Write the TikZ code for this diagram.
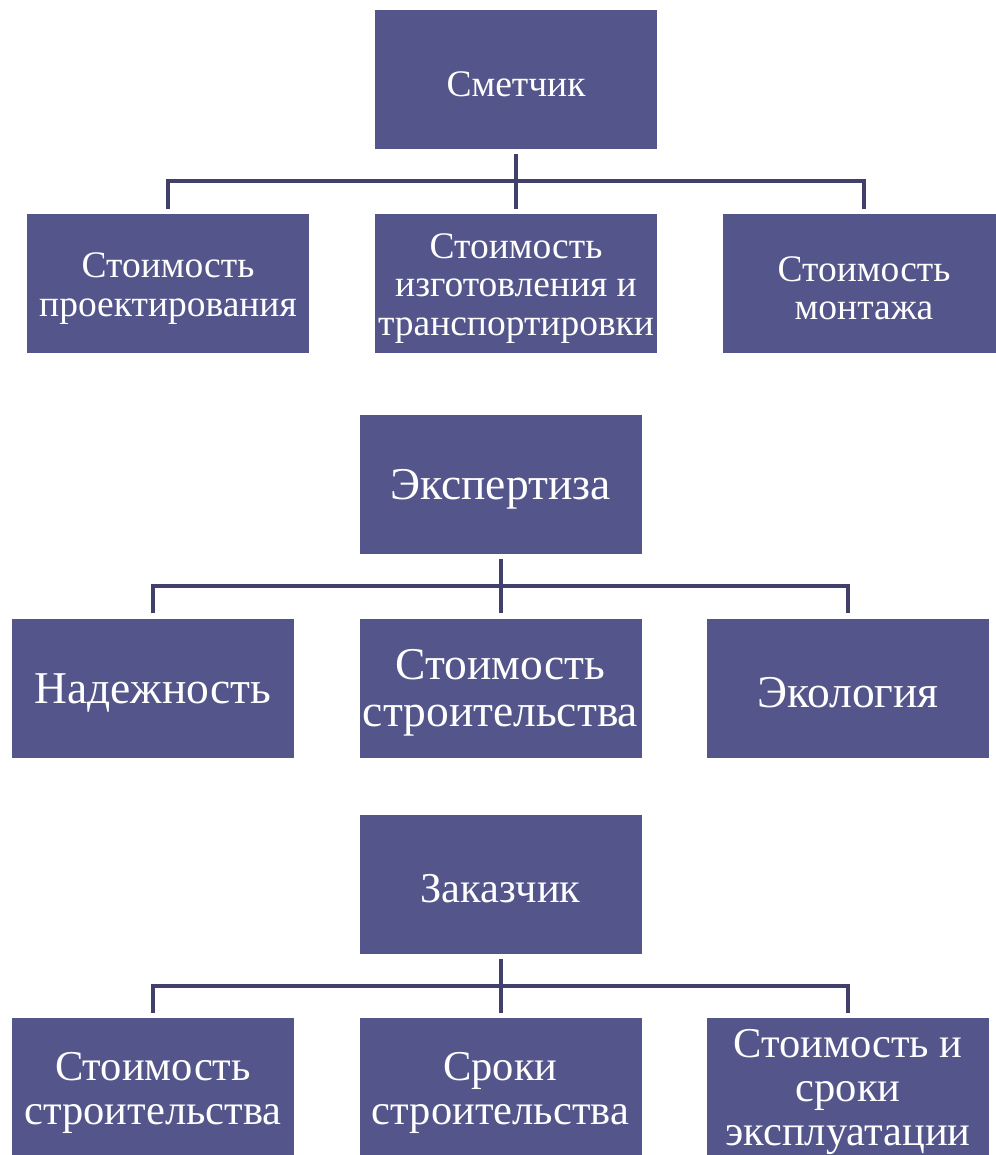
\documentclass[tikz,border=0pt]{standalone}
\usepackage{fontspec}
\setmainfont{Liberation Serif}
\usetikzlibrary{calc}
\definecolor{boxfill}{RGB}{84,85,138}
\definecolor{linecol}{RGB}{64,64,106}
\tikzset{
  box/.style={fill=boxfill, draw=none, minimum width=282pt, minimum height=139pt, inner sep=0pt},
  txt/.style={text=white, align=center, inner sep=0pt, yshift=-5pt},
  small/.style={font=\fontsize{37.5}{38.5}\selectfont},
  big/.style={font=\fontsize{45.5}{47}\selectfont},
  mid/.style={font=\fontsize{42.5}{44}\selectfont},
  conn/.style={draw=linecol, line width=4pt, shorten <=5pt, shorten >=5pt},
}
\begin{document}
\begin{tikzpicture}[x=1pt,y=-1pt]
\useasboundingbox (0,0) rectangle (995,1155);
% group 1
\node[box,label={[txt,small]center:Сметчик}] (s) at (516,79.5) {};
\node[box,label={[txt,small]center:{Стоимость\\проектирования}}] (s1) at (168,283.5) {};
\node[box,label={[txt,small]center:{Стоимость\\изготовления и\\транспортировки}}] (s2) at (516,283.5) {};
\node[box,label={[txt,small]center:{Стоимость\\монтажа}}] (s3) at (864,283.5) {};
\coordinate (sb) at ($(s.south)!0.5!(s2.north)$);
\draw[conn] (s) -- (s2);
\draw[conn] (s1.north) |- (sb) -| (s3.north);
% group 2
\node[box,label={[txt,big]center:Экспертиза}] (e) at (500.5,484) {};
\node[box,label={[txt,big]center:Надежность}] (e1) at (153,688) {};
\node[box,label={[txt,big]center:{Стоимость\\строительства}}] (e2) at (500.5,688) {};
\node[box,label={[txt,big]center:Экология}] (e3) at (848,688) {};
\coordinate (eb) at ($(e.south)!0.5!(e2.north)$);
\draw[conn] (e) -- (e2);
\draw[conn] (e1.north) |- (eb) -| (e3.north);
% group 3
\node[box,label={[txt,mid]center:Заказчик}] (z) at (500.5,884) {};
\node[box,label={[txt,mid]center:{Стоимость\\строительства}}] (z1) at (153,1087.5) {};
\node[box,label={[txt,mid]center:{Сроки\\строительства}}] (z2) at (500.5,1087.5) {};
\node[box,label={[txt,mid]center:{Стоимость и\\сроки\\эксплуатации}}] (z3) at (848,1087.5) {};
\coordinate (zb) at ($(z.south)!0.5!(z2.north)$);
\draw[conn] (z) -- (z2);
\draw[conn] (z1.north) |- (zb) -| (z3.north);
\end{tikzpicture}
\end{document}
